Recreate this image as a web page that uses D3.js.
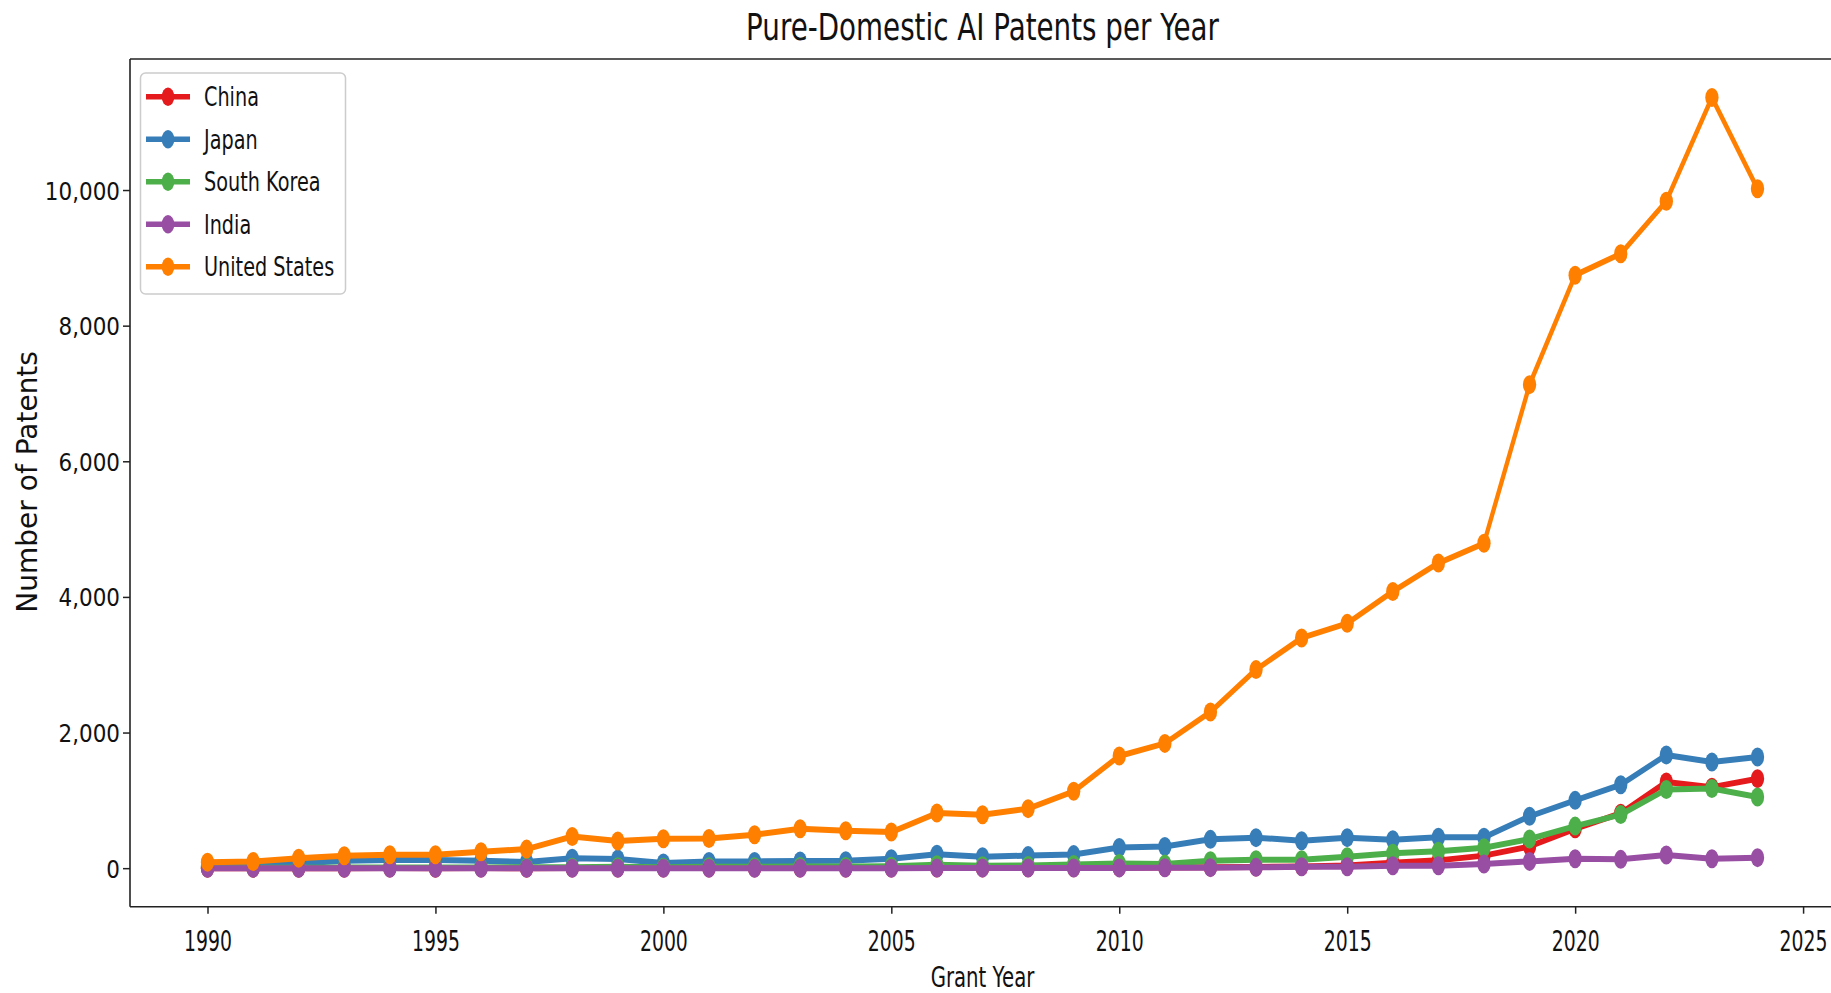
<!DOCTYPE html>
<html>
<head>
<meta charset="utf-8">
<script src="https://cdn.jsdelivr.net/npm/d3@7"></script>
<style>
  html, body { margin: 0; padding: 0; background: #ffffff; }
  svg { display: block; }
  text { font-family: "DejaVu Sans", sans-serif; fill: #111; }
</style>
</head>
<body>
<svg id="chart" width="1831" height="993"></svg>
<script>
// Grant years covered by the series
const years = d3.range(1990, 2025);

// Pure-domestic AI patents granted per year, by inventor country
const china = [0, 0, 0, 0, 1, 0, 1, 0, 1, 1, 1, 1, 2, 2, 2, 3, 3, 4, 5, 6, 8, 10, 14, 18, 25, 40, 80, 115, 185, 320, 580, 810, 1270, 1195, 1320];
const japan = [30, 40, 70, 110, 120, 120, 110, 90, 145, 135, 75, 100, 100, 105, 110, 140, 205, 170, 185, 200, 305, 320, 425, 450, 405, 450, 420, 455, 455, 765, 1000, 1230, 1670, 1565, 1640];
const southKorea = [5, 5, 5, 10, 10, 10, 10, 15, 15, 20, 15, 20, 20, 25, 25, 30, 50, 35, 40, 55, 70, 60, 110, 125, 125, 170, 220, 250, 300, 430, 620, 790, 1160, 1175, 1050];
const india = [0, 0, 0, 0, 0, 0, 0, 0, 0, 0, 0, 0, 0, 0, 0, 0, 1, 1, 2, 3, 4, 5, 8, 12, 20, 22, 35, 35, 60, 100, 140, 130, 195, 140, 155];
const unitedStates = [89, 99, 148, 183, 198, 198, 242, 281, 468, 400, 434, 437, 493, 582, 552, 532, 813, 789, 878, 1133, 1655, 1840, 2303, 2928, 3395, 3610, 4080, 4500, 4790, 7130, 8744, 9060, 9835, 11364, 10020];

const seriesNames = ["China", "Japan", "South Korea", "India", "United States"];
const seriesValues = [china, japan, southKorea, india, unitedStates];
const seriesColors = ["#e41a1c", "#377eb8", "#4daf4a", "#984ea3", "#ff7f00"];

const xTickValues = [1990, 1995, 2000, 2005, 2010, 2015, 2020, 2025];
const yTickValues = [0, 2000, 4000, 6000, 8000, 10000];

const titleText = "Pure-Domestic AI Patents per Year";
const xLabelText = "Grant Year";
const yLabelText = "Number of Patents";

// ---- layout ----
const plot = { left: 130, right: 1835, top: 59, bottom: 906.7 };
const squeeze = 0.7;             // horizontal compression of the drawing area
const textSqueeze = 0.7;         // matching compression for horizontal text

const svg = d3.select("#chart");

// Data extent with 5% margin on each side
const xMin = d3.min(years), xMax = d3.max(years);
const xPad = (xMax - xMin) * 0.05;
const allVals = seriesValues.flat();
const yMin = d3.min(allVals), yMax = d3.max(allVals);
const yPad = (yMax - yMin) * 0.05;

const x = d3.scaleLinear().domain([xMin - xPad, xMax + xPad]).range([plot.left, plot.right]);
const y = d3.scaleLinear().domain([yMin - yPad, yMax + yPad]).range([plot.bottom, plot.top]);

// x scale in the uncompressed coordinate space used inside the squeezed group
const xs = d3.scaleLinear().domain(x.domain()).range([plot.left / squeeze, plot.right / squeeze]);

// ---- series ----
svg.append("clipPath").attr("id", "plotClip")
  .append("rect")
  .attr("x", plot.left).attr("y", plot.top)
  .attr("width", plot.right - plot.left).attr("height", plot.bottom - plot.top);

const plotArea = svg.append("g").attr("clip-path", "url(#plotClip)");
const squeezed = plotArea.append("g").attr("transform", `scale(${squeeze},1)`);

const line = d3.line()
  .x((d, i) => xs(years[i]))
  .y(d => y(d));

seriesValues.forEach((vals, k) => {
  const g = squeezed.append("g").attr("class", "series");
  g.append("path")
    .datum(vals)
    .attr("d", line)
    .attr("fill", "none")
    .attr("stroke", seriesColors[k])
    .attr("stroke-width", 6)
    .attr("stroke-linejoin", "round")
    .attr("stroke-linecap", "round");
  g.selectAll("circle")
    .data(vals)
    .join("circle")
    .attr("cx", (d, i) => xs(years[i]))
    .attr("cy", d => y(d))
    .attr("r", 9.5)
    .attr("fill", seriesColors[k]);
});

// ---- axes ----
const axisColor = "#222";

// frame (the right side runs past the canvas)
[[plot.left, plot.left, plot.top, plot.bottom],
 [plot.left, plot.right, plot.top, plot.top],
 [plot.left, plot.right, plot.bottom, plot.bottom],
 [plot.right, plot.right, plot.top, plot.bottom]].forEach(([x1, x2, y1, y2]) => {
  svg.append("line").attr("x1", x1).attr("x2", x2).attr("y1", y1).attr("y2", y2)
    .attr("stroke", axisColor).attr("stroke-width", 1.6);
});

// y axis
const yAxis = d3.axisLeft(y).tickValues(yTickValues).tickSize(7).tickFormat(d3.format(","));
const gy = svg.append("g").attr("transform", `translate(${plot.left},0)`).call(yAxis);
gy.select(".domain").remove();
gy.selectAll(".tick line").attr("stroke", axisColor).attr("stroke-width", 1.5);
gy.selectAll(".tick text")
  .attr("font-size", 25)
  .attr("font-family", "DejaVu Sans")
  .attr("fill", "#111")
  .attr("x", 0)
  .attr("dy", "0.36em")
  .attr("text-anchor", "end")
  .attr("transform", "translate(-10,0) scale(0.86,1)");

// x axis
const xAxis = d3.axisBottom(x).tickValues(xTickValues).tickSize(7).tickFormat(d3.format("d"));
const gx = svg.append("g").attr("transform", `translate(0,${plot.bottom})`).call(xAxis);
gx.select(".domain").remove();
gx.selectAll(".tick line").attr("stroke", axisColor).attr("stroke-width", 1.5);
gx.selectAll(".tick text")
  .attr("font-size", 29)
  .attr("font-family", "DejaVu Sans")
  .attr("fill", "#111")
  .attr("dy", null)
  .attr("y", 0)
  .attr("text-anchor", "middle")
  .attr("transform", `translate(0,44) scale(${textSqueeze - 0.05},1)`);

// ---- labels ----
function condensedText(parent, str, cx, baseline, size, sx, anchor) {
  return parent.append("text")
    .attr("transform", `translate(${cx},${baseline}) scale(${sx},1)`)
    .attr("text-anchor", anchor || "middle")
    .attr("font-size", size)
    .text(str);
}

condensedText(svg, titleText, (plot.left + plot.right) / 2, 40, 37.5, 0.74);
condensedText(svg, xLabelText, (plot.left + plot.right) / 2, 987, 29, 0.68);

svg.append("text")
  .attr("transform", `translate(37,${(plot.top + plot.bottom) / 2 - 1}) rotate(-90)`)
  .attr("text-anchor", "middle")
  .attr("font-size", 28)
  .attr("fill", "#222")
  .text(yLabelText);

// ---- legend ----
const legend = svg.append("g").attr("class", "legend");
legend.append("rect")
  .attr("x", 140.5).attr("y", 73).attr("width", 205).attr("height", 221)
  .attr("rx", 5).attr("ry", 5)
  .attr("fill", "#ffffff").attr("fill-opacity", 0.8)
  .attr("stroke", "#cccccc").attr("stroke-width", 1.5);

seriesNames.forEach((name, k) => {
  const cy = 96.7 + k * 42.5;
  legend.append("line")
    .attr("x1", 146).attr("x2", 190).attr("y1", cy).attr("y2", cy)
    .attr("stroke", seriesColors[k]).attr("stroke-width", 5.5);
  legend.append("ellipse")
    .attr("cx", 168).attr("cy", cy).attr("rx", 6.3).attr("ry", 9.2)
    .attr("fill", seriesColors[k]);
  condensedText(legend, name, 204, cy + 9.5, 26, 0.74, "start");
});
</script>
</body>
</html>
